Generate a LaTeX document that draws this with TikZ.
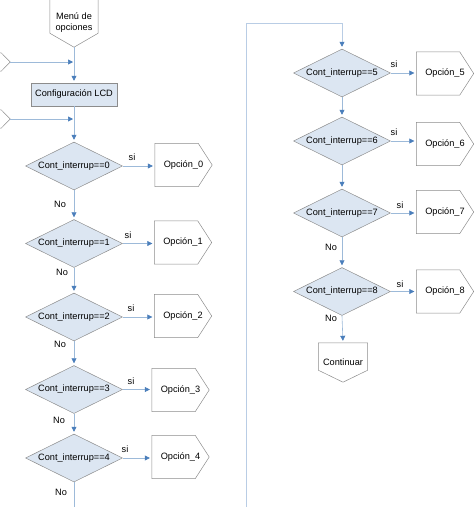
\documentclass[tikz,border=0pt]{standalone}
\usepackage{fontspec}
\setmainfont{Liberation Sans}
\usetikzlibrary{shapes.geometric,arrows.meta}
\definecolor{shapeline}{HTML}{8C8C8C}
\definecolor{shapefill}{HTML}{DCE6F2}
\definecolor{flowline}{HTML}{9DBAD9}
\definecolor{looplinec}{HTML}{B9CDE5}
\definecolor{tipblue}{HTML}{4A7EBB}
\begin{document}
\begin{tikzpicture}[x=1pt,y=-1pt, font=\fontsize{9.2}{11}\selectfont,
 dec/.style={diamond, shape aspect=2, draw=shapeline, fill=shapefill, minimum width=97, minimum height=48, inner sep=0, line width=0.5pt},
 proc/.style={rectangle, draw=shapeline, fill=shapefill, minimum width=86, minimum height=23, inner sep=0, line width=0.5pt},
 opt/.style={rectangle, minimum width=57, minimum height=43, inner sep=0},
 offdown/.style={rectangle, inner sep=0, align=center},
 offright/.style={rectangle, minimum width=40, minimum height=18, inner sep=0},
 outline/.style={draw=shapeline, line width=0.5pt},
 flow/.style={draw=flowline, line width=0.6pt},
 arr/.style={flow, -{Triangle[length=5pt,width=5pt,fill=tipblue,color=tipblue]}, shorten >=2pt},
 lab/.style={inner sep=0}
]
\clip (0,0) rectangle (474,507);
% left column
\node[offdown, minimum width=48, minimum height=49] (menu) at (74,22.5) {Menú de\\opciones};
\node[proc] (lcd) at (74,94.5) {Configuración LCD};
\node[offright] (lc1) at (-10,62) {};
\node[offright] (lc2) at (-10,119) {};
\coordinate (j1) at (74,62);
\coordinate (j2) at (74,119);
\node[dec] (d0) at (74,166) {Cont\_interrup==0};
\node[dec] (d1) at (74,243.5) {Cont\_interrup==1};
\node[dec] (d2) at (74,317) {Cont\_interrup==2};
\node[dec] (d3) at (74,389.5) {Cont\_interrup==3};
\node[dec] (d4) at (74,458) {Cont\_interrup==4};
\node[opt] (o0) at (183.5,165) {Opción\_0};
\node[opt] (o1) at (183,242.5) {Opción\_1};
\node[opt] (o2) at (183,316) {Opción\_2};
\node[opt] (o3) at (180.5,390) {Opción\_3};
\node[opt] (o4) at (180.5,457) {Opción\_4};
\coordinate (bot1) at (74,512);
% right column
\node[dec] (d5) at (342,73) {Cont\_interrup==5};
\node[dec] (d6) at (342,141) {Cont\_interrup==6};
\node[dec] (d7) at (342,213) {Cont\_interrup==7};
\node[dec] (d8) at (342,291.5) {Cont\_interrup==8};
\node[opt] (o5) at (445,73.5) {Opción\_5};
\node[opt] (o6) at (445,144) {Opción\_6};
\node[opt] (o7) at (445,212) {Opción\_7};
\node[opt] (o8) at (445,291.5) {Opción\_8};
\node[offdown, minimum width=49, minimum height=39] (cont) at (343,362.5) {Continuar};
\coordinate (lp1) at (246,512);
\coordinate (lp2) at (246,23);
% outlines of the pentagon-shaped nodes
\foreach \o in {o0,o1,o2,o3,o4,o5,o6,o7,o8}
  \draw[outline] (\o.north west) -- ([xshift=-14pt]\o.north east) -- (\o.east)
    -- ([xshift=-14pt]\o.south east) -- (\o.south west) -- cycle;
\foreach \o in {lc1,lc2}
  \draw[outline] (\o.north west) -- ([xshift=-9pt]\o.north east) -- (\o.east)
    -- ([xshift=-9pt]\o.south east) -- (\o.south west) -- cycle;
\draw[outline] (menu.north west) -- (menu.north east) -- ([yshift=14pt]menu.south east)
  -- (menu.south) -- ([yshift=14pt]menu.south west) -- cycle;
\draw[outline] (cont.north west) -- (cont.north east) -- ([yshift=12pt]cont.south east)
  -- (cont.south) -- ([yshift=12pt]cont.south west) -- cycle;
% connectors
\draw[arr] (menu.south) -- (lcd.north);
\draw[arr, shorten >=1pt] (lc1.east) -- (j1);
\draw[arr] (lcd.south) -- (d0.north);
\draw[arr, shorten >=1pt] (lc2.east) -- (j2);
\foreach \a/\b in {d0/d1,d1/d2,d2/d3,d3/d4,d5/d6,d6/d7,d7/d8,d8/cont}
  \draw[arr] (\a.south) -- (\b.north);
\foreach \d/\o in {d0/o0,d1/o1,d2/o2,d3/o3,d4/o4,d5/o5,d6/o6,d7/o7,d8/o8}
  \draw[arr] (\d.east) -- (\d.east -| \o.west);
\draw[flow] (d4.south) -- (bot1);
\draw[arr, draw=looplinec] (lp1) -- (lp2) -| (d5.north);
% labels
\node[lab] (s0) at (132,157) {si};
\node[lab] (s1) at (128,235) {si};
\node[lab] (s2) at (131,308) {si};
\node[lab] (s3) at (131,381.5) {si};
\node[lab] (s4) at (125,449) {si};
\node[lab] (s5) at (394,64) {si};
\node[lab] (s6) at (394,132) {si};
\node[lab] (s7) at (400,205) {si};
\node[lab] (s8) at (400,284) {si};
\node[lab] (n0) at (60,204) {No};
\node[lab] (n1) at (62,272) {No};
\node[lab] (n2) at (60,344) {No};
\node[lab] (n3) at (59,420) {No};
\node[lab] (n4) at (61,492) {No};
\node[lab] (n7) at (331,247) {No};
\node[lab] (n8) at (331,318) {No};
\end{tikzpicture}
\end{document}
